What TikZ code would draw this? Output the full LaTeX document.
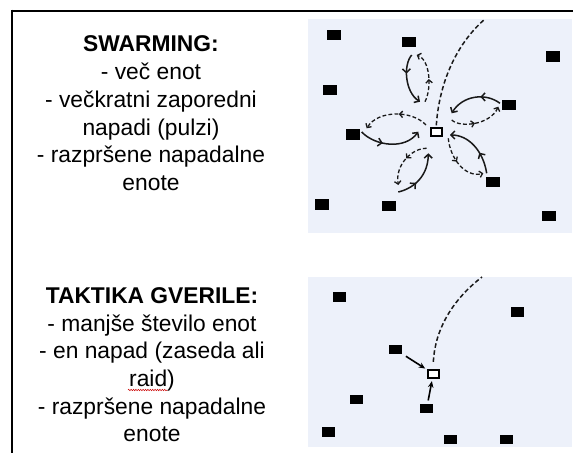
\documentclass[tikz,border=0pt]{standalone}
\usepackage{fontspec}
\setmainfont{Liberation Sans}
\usetikzlibrary{arrows.meta,decorations.markings,decorations.pathmorphing}
\definecolor{panel}{RGB}{237,241,250}
\definecolor{ink}{RGB}{25,25,25}
\tikzset{
  txt/.style={anchor=base,inner sep=0pt,font=\fontsize{22.8}{27.8}\selectfont,text=black},
  hdr/.style={txt,font=\fontsize{22.8}{27.8}\selectfont\bfseries},
  unit/.style={fill=black,draw=none,minimum width=14pt,minimum height=10.5pt,inner sep=0pt},
  unitb/.style={fill=black,draw=none,minimum width=13pt,minimum height=9.5pt,inner sep=0pt},
  goal/.style={draw=black,fill=white,line width=1.8pt,minimum width=11pt,minimum height=8pt,inner sep=0pt},
  pulse/.style={ink,line width=1.5pt,-{Straight Barb[length=3.8pt,width=8pt]},
    postaction={decorate},decoration={markings,mark=at position 0.38 with {\arrow{Straight Barb[length=3.8pt,width=8pt]}}}},
  back/.style={ink,line width=1.3pt,dash pattern=on 3.8pt off 2.3pt,-{Straight Barb[length=3pt,width=6.5pt]},
    postaction={decorate},decoration={markings,mark=at position 0.45 with {\arrow{Straight Barb[length=3pt,width=6.5pt]}}}},
  route/.style={ink,line width=1.5pt,dash pattern=on 4.5pt off 2.6pt},
  hit/.style={black,line width=1.6pt,-{Stealth[length=6.5pt,width=5.5pt]}}
}
\begin{document}
\begin{tikzpicture}[x=1pt,y=-1pt]
\useasboundingbox (0,0) rectangle (573,453);
\fill[white] (0,0) rectangle (573,453);
% frame
\draw[black,line width=2.2pt] (11,10.7) -- (573,10.7);
\draw[black,line width=2.2pt] (12.2,9.6) -- (12.2,453);
% panels
\fill[panel] (308,19) rectangle (572,233);
\fill[panel] (308,277) rectangle (572,447);
% texts upper
\node[hdr] (h1) at (151,51.7) {SWARMING:};
\node[txt] (a1) at (151,79.5) {- več enot};
\node[txt] (a2) at (151,107.3) {- večkratni zaporedni};
\node[txt] (a3) at (151,135.1) {napadi (pulzi)};
\node[txt] (a4) at (151,162.9) {- razpršene napadalne};
\node[txt] (a5) at (151,190.7) {enote};
% texts lower
\node[hdr] (h2) at (152,303.3) {TAKTIKA GVERILE:};
\node[txt] (b1) at (152,331) {- manjše število enot};
\node[txt] (b2) at (152,358.7) {- en napad (zaseda ali};
\node[txt] (b3) at (152,386.4) {raid)};
\node[txt] (b4) at (152,414.1) {- razpršene napadalne};
\node[txt] (b5) at (152,441.8) {enote};
\draw[red!80!black,line width=0.5pt,decorate,decoration={snake,amplitude=0.7pt,segment length=2.4pt}]
  ([shift={(-1,3.6)}]b3.base west) -- ([shift={(-7.5,3.6)}]b3.base east);
% upper units
\node[unit] (u1) at (333.7,35) {};
\node[unit] (u2) at (409.3,42) {};
\node[unit] (u3) at (553,56.7) {};
\node[unit] (u4) at (329.7,90) {};
\node[unit] (u5) at (509,105) {};
\node[unit] (u6) at (353.3,134.3) {};
\node[unit] (u7) at (493.3,182) {};
\node[unit] (u8) at (321.7,204.7) {};
\node[unit] (u9) at (389.3,206) {};
\node[unit] (u10) at (549,216) {};
\node[goal] (t1) at (436.3,131.7) {};
\coordinate (e1) at (485,19);
\draw[route] (t1.north) ++(0,-1.5) .. controls (439,85) and (455,45) .. (e1);
% petal 1
\draw[pulse] ([shift={(2.4,13)}]u2.center) .. controls (403,65) and (405,92) .. ([shift={(-16.3,-30)}]t1.center);
\draw[back] ([shift={(-11.3,-30)}]t1.center) .. controls (432,88) and (430,60) .. ([shift={(7.4,13)}]u2.center);
% petal 2
\draw[pulse] ([shift={(8.4,-2.3)}]u6.center) .. controls (375,146) and (405,150) .. ([shift={(-18,0)}]t1.center);
\draw[back] ([shift={(-10.3,-6.7)}]t1.center) .. controls (412,110) and (378,110) .. ([shift={(13.4,-6)}]u6.center);
% petal 3
\draw[pulse] ([shift={(9,-14)}]u9.center) .. controls (415,188) and (428,175) .. ([shift={(-8,21.6)}]t1.center);
\draw[back] ([shift={(-9.6,16.6)}]t1.center) .. controls (412,148) and (395,165) .. ([shift={(9,-21)}]u9.center);
% petal 4
\draw[pulse] ([shift={(-6.6,-8.7)}]u7.center) .. controls (483,150) and (468,135) .. ([shift={(13.7,3.3)}]t1.center);
\draw[back] ([shift={(12,6.6)}]t1.center) .. controls (450,158) and (465,178) .. ([shift={(-10,-8.7)}]u7.center);
% petal 5
\draw[pulse] ([shift={(-9,-1.7)}]u5.center) .. controls (485,92) and (462,96) .. ([shift={(15.4,-18.4)}]t1.center);
\draw[back] ([shift={(15.4,-11.7)}]t1.center) .. controls (460,128) and (490,125) .. ([shift={(-10.7,1.7)}]u5.center);
% lower units
\node[unitb] (v1) at (339.3,297) {};
\node[unitb] (v2) at (517,312) {};
\node[unitb] (v3) at (395,349.3) {};
\node[unitb] (v4) at (356,399.7) {};
\node[unitb] (v5) at (426.7,408.3) {};
\node[unitb] (v6) at (328.3,432) {};
\node[unitb] (v7) at (450.7,439.3) {};
\node[unitb] (v8) at (506,439.3) {};
\node[goal] (t2) at (433.3,373.7) {};
\coordinate (e2) at (482,277);
\draw[route] (t2.north) ++(0,-7) .. controls (435,330) and (452,300) .. (e2);
\draw[hit,shorten <=5pt,shorten >=2pt] (v3) -- (t2);
\draw[hit,shorten <=3pt,shorten >=2.5pt] (v5) -- (t2);
\end{tikzpicture}
\end{document}
